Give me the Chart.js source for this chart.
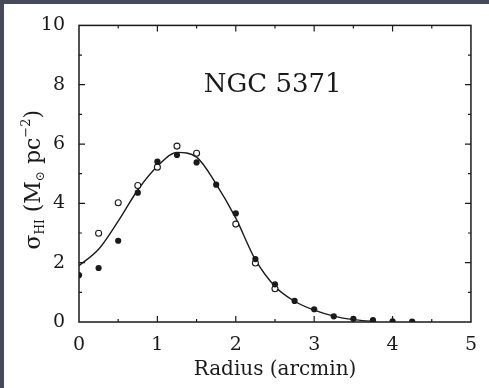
<!DOCTYPE html>
<html>
<head>
<meta charset="utf-8">
<script src="https://cdn.jsdelivr.net/npm/chart.js@4.4.1/dist/chart.umd.min.js"></script>
<style>
  html, body { margin: 0; padding: 0; background: #464b59; }
  #wrap { width: 489px; height: 388px; }
</style>
</head>
<body>
<div id="wrap"><canvas id="hiChart" width="489" height="388"></canvas></div>
<script>
// filled circles
const radiusFilled = [0, 0.25, 0.5, 0.75, 1.0, 1.25, 1.5, 1.75, 2.0, 2.25, 2.5, 2.75, 3.0, 3.25, 3.5, 3.75, 4.0, 4.25];
const sigmaFilled = [1.58, 1.82, 2.74, 4.36, 5.41, 5.63, 5.38, 4.63, 3.66, 2.12, 1.27, 0.71, 0.43, 0.19, 0.11, 0.06, 0.02, 0.01];
// open circles
const radiusOpen = [0.25, 0.5, 0.75, 1.0, 1.25, 1.5, 2.0, 2.25, 2.5];
const sigmaOpen = [2.99, 4.02, 4.60, 5.22, 5.93, 5.69, 3.30, 1.99, 1.12];
// fitted curve
const radiusFit = [0, 0.25, 0.5, 0.75, 1.0, 1.25, 1.5, 1.75, 2.0, 2.25, 2.5, 2.75, 3.0, 3.25, 3.5, 3.75];
const sigmaFit = [1.9, 2.45, 3.4, 4.45, 5.25, 5.72, 5.56, 4.65, 3.5, 2.1, 1.2, 0.7, 0.4, 0.2, 0.08, 0.02];

const xTicks = [0, 1, 2, 3, 4, 5];
const yTicks = [0, 2, 4, 6, 8, 10];

const fontFam = "'DejaVu Serif', serif";
const ink = '#1a1a1a';

function pts(xs, ys) {
    return xs.map((x, i) => ({ x: x, y: ys[i] }));
}

// dark frame + white sheet
const paperPlugin = {
    id: 'paper',
    beforeDraw(chart) {
        const c = chart.ctx;
        c.save();
        c.fillStyle = '#464b59';
        c.fillRect(0, 0, chart.width, chart.height);
        c.fillStyle = '#ffffff';
        c.fillRect(4, 4, chart.width - 4, chart.height - 4);
        c.restore();
    }
};

// box, inward ticks, label and y title
const framePlugin = {
    id: 'frame',
    afterDraw(chart) {
        const c = chart.ctx;
        const a = chart.chartArea;
        const xs = chart.scales.x, ys = chart.scales.y;
        c.save();
        c.strokeStyle = ink;
        c.lineWidth = 1.5;
        c.strokeRect(a.left, a.top, a.right - a.left, a.bottom - a.top);

        c.lineWidth = 1.2;
        c.beginPath();
        for (let v = 0.5; v < 5; v += 0.5) {
            const px = xs.getPixelForValue(v);
            const len = (v % 1 === 0) ? 6 : 3;
            c.moveTo(px, a.bottom); c.lineTo(px, a.bottom - len);
            c.moveTo(px, a.top); c.lineTo(px, a.top + len);
        }
        for (let v = 1; v < 10; v += 1) {
            const py = ys.getPixelForValue(v);
            const len = (v % 2 === 0) ? 6 : 3;
            c.moveTo(a.left, py); c.lineTo(a.left + len, py);
            c.moveTo(a.right, py); c.lineTo(a.right - len, py);
        }
        c.stroke();

        // galaxy name
        c.fillStyle = ink;
        c.font = "26px " + fontFam;
        c.textAlign = 'center';
        c.textBaseline = 'middle';
        c.fillText('NGC 5371', xs.getPixelForValue(2.47), ys.getPixelForValue(7.98));

        // rotated y title with sub/superscripts
        c.translate(33, (a.top + a.bottom) / 2 + 6);
        c.rotate(-Math.PI / 2);
        c.textAlign = 'left';
        c.textBaseline = 'alphabetic';
        const parts = [
            { t: 'σ', s: 22, dy: 0 },
            { t: 'HI', s: 12, dy: 4 },
            { t: ' (M', s: 22, dy: 0 },
            { t: '⊙', s: 12, dy: 4 },
            { t: ' pc', s: 22, dy: 0 },
            { t: '−2', s: 13, dy: -10 },
            { t: ')', s: 22, dy: 0 }
        ];
        let w = 0;
        parts.forEach(p => { c.font = p.s + 'px ' + fontFam; w += c.measureText(p.t).width; });
        let x = -w / 2;
        parts.forEach(p => {
            c.font = p.s + 'px ' + fontFam;
            c.fillText(p.t, x, 7 + p.dy);
            x += c.measureText(p.t).width;
        });
        c.restore();
    }
};

const ctx = document.getElementById('hiChart').getContext('2d');
const hiChart = new Chart(ctx, {
    type: 'scatter',
    data: {
        datasets: [
            {
                label: 'fit',
                type: 'line',
                data: pts(radiusFit, sigmaFit),
                borderColor: ink,
                borderWidth: 1.4,
                pointRadius: 0,
                fill: false,
                cubicInterpolationMode: 'monotone',
                order: 3
            },
            {
                label: 'open',
                data: pts(radiusOpen, sigmaOpen),
                pointStyle: 'circle',
                pointRadius: 3,
                pointBackgroundColor: '#ffffff',
                pointBorderColor: ink,
                pointBorderWidth: 1.1,
                order: 2
            },
            {
                label: 'filled',
                data: pts(radiusFilled, sigmaFilled),
                pointStyle: 'circle',
                pointRadius: 3.1,
                pointBackgroundColor: ink,
                pointBorderColor: ink,
                pointBorderWidth: 0,
                order: 1
            }
        ]
    },
    options: {
        responsive: false,
        animation: false,
        layout: { padding: { top: 22, right: 12, left: 0, bottom: 0 } },
        plugins: {
            legend: { display: false },
            tooltip: { enabled: false }
        },
        scales: {
            x: {
                type: 'linear',
                min: 0,
                max: 5,
                afterFit(s) { s.height = 66; },
                afterBuildTicks(s) { s.ticks = xTicks.map(v => ({ value: v })); },
                grid: { display: false, drawTicks: false },
                border: { display: false },
                ticks: { color: ink, padding: 12, font: { family: fontFam, size: 19 } },
                title: {
                    display: true,
                    text: 'Radius (arcmin)',
                    color: ink,
                    font: { family: fontFam, size: 20 },
                    padding: { top: 0, bottom: 6 }
                }
            },
            y: {
                type: 'linear',
                min: 0,
                max: 10,
                afterFit(s) { s.width = 79; },
                afterBuildTicks(s) { s.ticks = yTicks.map(v => ({ value: v })); },
                grid: { display: false, drawTicks: false },
                border: { display: false },
                ticks: { color: ink, padding: 14, font: { family: fontFam, size: 19 } }
            }
        }
    },
    plugins: [paperPlugin, framePlugin]
});
</script>
</body>
</html>
